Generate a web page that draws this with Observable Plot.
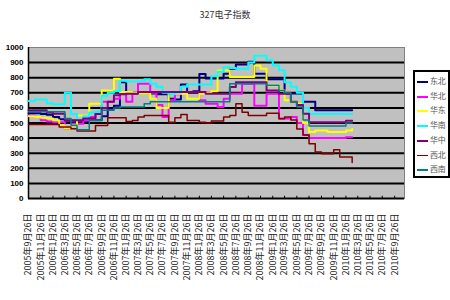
<!DOCTYPE html>
<html><head><meta charset="utf-8">
<script src="https://cdn.jsdelivr.net/npm/d3@7"></script>
<script src="https://cdn.jsdelivr.net/npm/@observablehq/plot@0.6"></script>
<style>
body{margin:0;background:#fff;}
#wrap{position:relative;width:450px;height:300px;font-family:"Noto Sans CJK SC","Noto Sans",sans-serif;}
#title{position:absolute;left:180px;width:90px;text-align:center;top:8px;font-size:9px;color:#333;}
#legend{position:absolute;left:413px;top:70px;width:33px;height:104px;border:2px solid #000;background:#fff;}
.item{position:absolute;left:2px;height:12px;width:31px;font-size:8px;line-height:12px;color:#555;}
.item span{position:absolute;left:0;top:6px;width:11px;height:2px;}
.item b{position:absolute;left:13px;top:0;font-weight:normal;white-space:nowrap;letter-spacing:-0.3px;}
</style></head>
<body><div id="wrap"><div id="title"></div><div id="legend"></div></div>
<script>
const titleText = "327电子指数";
const seriesNames = ["东北","华北","华东","华南","华中","西北","西南"];
const seriesColors = ["#000080","#ff00ff","#ffff00","#00ffff","#800080","#800000","#008080"];
const seriesWidths = [2,2,2,2,2,1.5,1.5];
const startDate = "2005-09-26";
const dongbei = [565,565,560,555,540, 525,515,515,515,515, 518,518,545,595,615, 770,705,695,695,695, 695,690,690,660,655, 755,705,710,825,795, 795,795,826,860,887, 887,905,826,826,790, 790,790,695,695,695, 640,640,585,585,585, 585,585,585,585];
const huabei = [550,540,518,510,505, 505,462,495,495,518, 540,560,640,640,660, 700,640,700,760,760, 700,620,540,650,690, 705,705,705,650,628, 628,606,660,693,693, 760,760,615,615,693, 693,530,530,540,500, 420,400,400,400,400, 400,400,405,405];
const huadong = [545,540,535,530,518, 485,463,485,550,550, 628,628,716,716,793, 705,705,700,693,693, 660,600,600,693,693, 693,660,660,693,700, 710,848,848,805,805, 805,805,880,860,750, 750,716,650,640,628, 500,440,450,450,440, 440,440,450,460];
const huanan = [645,655,655,630,625, 625,700,560,520,545, 570,575,680,700,710, 780,775,775,775,790, 760,740,700,690,700, 740,755,755,755,755, 810,840,870,865,860, 860,900,945,945,915, 880,850,770,740,700, 600,560,560,560,560, 560,560,560,560];
const huazhong = [585,585,585,570,562, 562,518,518,518,530, 530,560,600,640,683, 690,693,693,705,705, 705,705,705,705,705, 705,705,705,705,693, 693,693,693,738,770, 770,770,770,770,716, 716,693,693,640,620, 562,505,505,505,505, 505,505,515,515];
const xibei = [490,490,490,490,490, 473,473,462,447,447, 447,484,484,535,535, 535,510,517,540,550, 550,550,550,505,535, 557,517,517,505,500, 513,513,540,550,627, 572,550,550,550,565, 565,528,539,520,460, 420,363,308,297,297, 323,275,275,238];
const xinan = [575,575,575,575,575, 575,530,485,455,455, 518,518,585,585,600, 606,606,606,606,628, 640,640,640,640,640, 640,640,640,640,640, 640,640,640,760,760, 760,760,760,760,750, 750,716,700,640,606, 520,480,480,480,480, 480,480,500,500];
const tickLabels = ["2005年9月26日","2005年11月26日","2006年1月26日","2006年3月26日","2006年5月26日","2006年7月26日","2006年9月26日","2006年11月26日","2007年1月26日","2007年3月26日","2007年5月26日","2007年7月26日","2007年9月26日","2007年11月26日","2008年1月26日","2008年3月26日","2008年5月26日","2008年7月26日","2008年9月26日","2008年11月26日","2009年1月26日","2009年3月26日","2009年5月26日","2009年7月26日","2009年9月26日","2009年11月26日","2010年1月26日","2010年3月26日","2010年5月26日","2010年7月26日","2010年9月26日"];
const yTicks = [0,100,200,300,400,500,600,700,800,900,1000];
const gridValues = [100,200,300,400,500,600,700,800,900];

const allSeries = [dongbei,huabei,huadong,huanan,huazhong,xibei,xinan];
const t0 = new Date(startDate);
const dates = dongbei.map((_, i) => d3.utcMonth.offset(t0, i));
const tickDates = tickLabels.map((_, i) => d3.utcMonth.offset(t0, 2 * i));
const rows = [];
allSeries.forEach((vals, s) => vals.forEach((v, i) => rows.push({date: dates[i], value: v, series: seriesNames[s]})));

const xDomain = [t0, new Date("2010-11-14")];
const marks = [
  Plot.frame({fill: "#c0c0c0", stroke: "#808080"}),
  Plot.ruleY(gridValues, {stroke: "#000", strokeWidth: 2}),
  Plot.ruleX(tickDates, {y1: 0, y2: 15, stroke: "#000", strokeWidth: 1}),
  Plot.ruleX([t0], {stroke: "#000", strokeWidth: 1.5}),
  Plot.ruleY([0], {stroke: "#000", strokeWidth: 2}),
];
seriesNames.forEach((name, s) => {
  marks.push(Plot.line(rows.filter(r => r.series === name), {x: "date", y: "value", curve: "step-after", stroke: seriesColors[s], strokeWidth: seriesWidths[s]}));
});
marks.push(Plot.text(yTicks, {x: t0, y: d => d, text: d => String(d), textAnchor: "end", dx: -5, fontSize: 8, fontWeight: "bold", fill: "#000", fontFamily: "Liberation Sans"}));
marks.push(Plot.text(tickDates, {x: d => d, y: -100, text: (d, i) => tickLabels[i], rotate: -90, textAnchor: "end", fontSize: 9, fill: "#222"}));

const chart = Plot.plot({
  width: 450, height: 300,
  marginLeft: 28, marginRight: 46, marginTop: 47, marginBottom: 102,
  style: {background: "transparent", fontFamily: "Noto Sans CJK SC, sans-serif", overflow: "visible"},
  x: {type: "utc", domain: xDomain, axis: null},
  y: {domain: [0, 1000], axis: null},
  marks
});
const wrap = document.getElementById("wrap");
wrap.insertBefore(chart, wrap.firstChild);
document.getElementById("title").textContent = titleText;
const legend = document.getElementById("legend");
seriesNames.forEach((name, s) => {
  const it = document.createElement("div");
  it.className = "item";
  it.style.top = (3 + s * 14.7) + "px";
  const sw = document.createElement("span");
  sw.style.background = seriesColors[s];
  sw.style.height = seriesWidths[s] + "px";
  const lb = document.createElement("b");
  lb.textContent = name;
  it.appendChild(sw); it.appendChild(lb);
  legend.appendChild(it);
});
</script></body></html>
